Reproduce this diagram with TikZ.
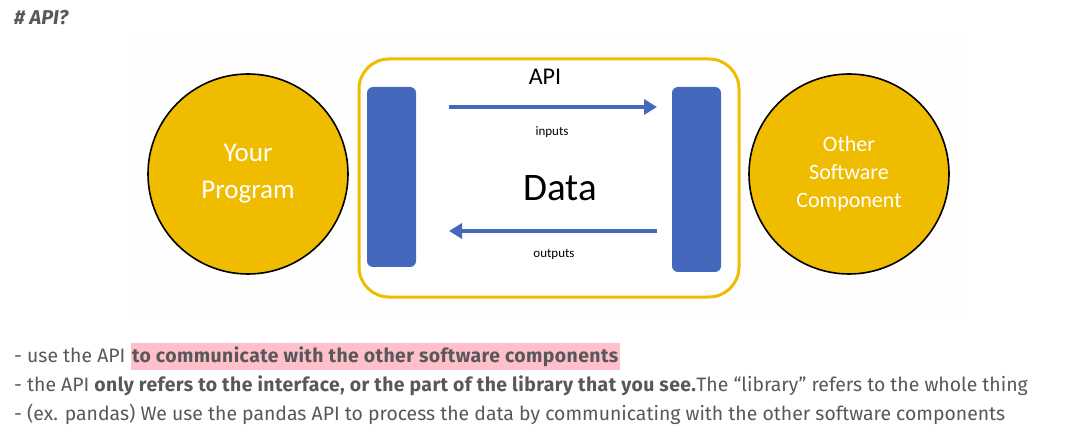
\documentclass[tikz,border=0pt]{standalone}
\usepackage{fontspec}
\setmainfont{Fira Sans}[BoldFeatures={LetterSpace=2.2}]
\newfontfamily\slidefont{Carlito}
\usepackage{tikz}
\usetikzlibrary{arrows.meta,positioning}
\definecolor{apigold}{RGB}{240,188,0}
\definecolor{apiblue}{RGB}{68,104,188}
\definecolor{textgray}{RGB}{88,88,88}
\definecolor{markpink}{RGB}{255,192,203}
\definecolor{slidebg}{RGB}{254,254,254}
\tikzset{
  party/.style={circle,draw=black,line width=1.6pt,fill=apigold,minimum size=200pt,
                text=white,align=center,inner sep=0pt},
  port/.style={rectangle,rounded corners=6pt,fill=apiblue,minimum width=49pt,inner sep=0pt},
  flow/.style={draw=apiblue,line width=3.5pt,-{Triangle[length=13pt,width=15pt]}},
  lbl/.style={font=\slidefont,text=black,inner sep=0pt},
  note/.style={anchor=base west,inner sep=0pt,text=textgray,font=\fontsize{19.4}{22}\selectfont},
}
\begin{document}
\begin{tikzpicture}[x=1pt,y=-1pt]
  \useasboundingbox (0,0) rectangle (1065,438);
  \fill[white] (0,0) rectangle (1065,438);
  % slide area
  \fill[slidebg] (133,33) rectangle (967,313);
  \node[note,font=\fontsize{20}{22}\selectfont\bfseries\itshape] (title) at (14,25) {\# API?};
  % api frame
  \draw[apigold,line width=3pt,fill=white,rounded corners=30pt] (359,59) rectangle (739,297);
  \node[port,minimum height=180pt] (pin) at (391.5,177) {};
  \node[port,minimum height=185pt] (pout) at (696.5,179.5) {};
  \node[party,font=\slidefont\fontsize{27}{37}\selectfont] (prog) at (248,174) {Your\\Program};
  \node[party,font=\slidefont\fontsize{22}{28}\selectfont] (other) at (849,174) {Other\\Software\\Component};
  \coordinate (inA) at (449,107);
  \coordinate (inB) at (657,107);
  \coordinate (outA) at (657,231);
  \coordinate (outB) at (449,231);
  \draw[flow] (inA) -- (inB);
  \draw[flow] (outA) -- (outB);
  \node[lbl,font=\slidefont\fontsize{24}{24}\selectfont] (api) at (545,77) {API};
  \node[lbl,font=\slidefont\fontsize{13}{13}\selectfont] (inp) at (552,132) {inputs};
  \node[lbl,font=\slidefont\fontsize{39}{39}\selectfont] (data) at (560,188) {Data};
  \node[lbl,font=\slidefont\fontsize{13}{13}\selectfont] (outp) at (554,254) {outputs};
  % notes
  \node[note] (n1) at (14,362) {- use the API {\setlength{\fboxsep}{1.5pt}\colorbox{markpink}{\textbf{\rule[-6pt]{0pt}{24pt}to communicate with the other software components}}}};
  \node[note] (n2) at (14,391) {- the API \textbf{only refers to the interface, or the part of the library that you see.}The “library” refers to the whole thing};
  \node[note] (n3) at (14,420) {- (ex. pandas) We use the pandas API to process the data by communicating with the other software components};
\end{tikzpicture}
\end{document}
